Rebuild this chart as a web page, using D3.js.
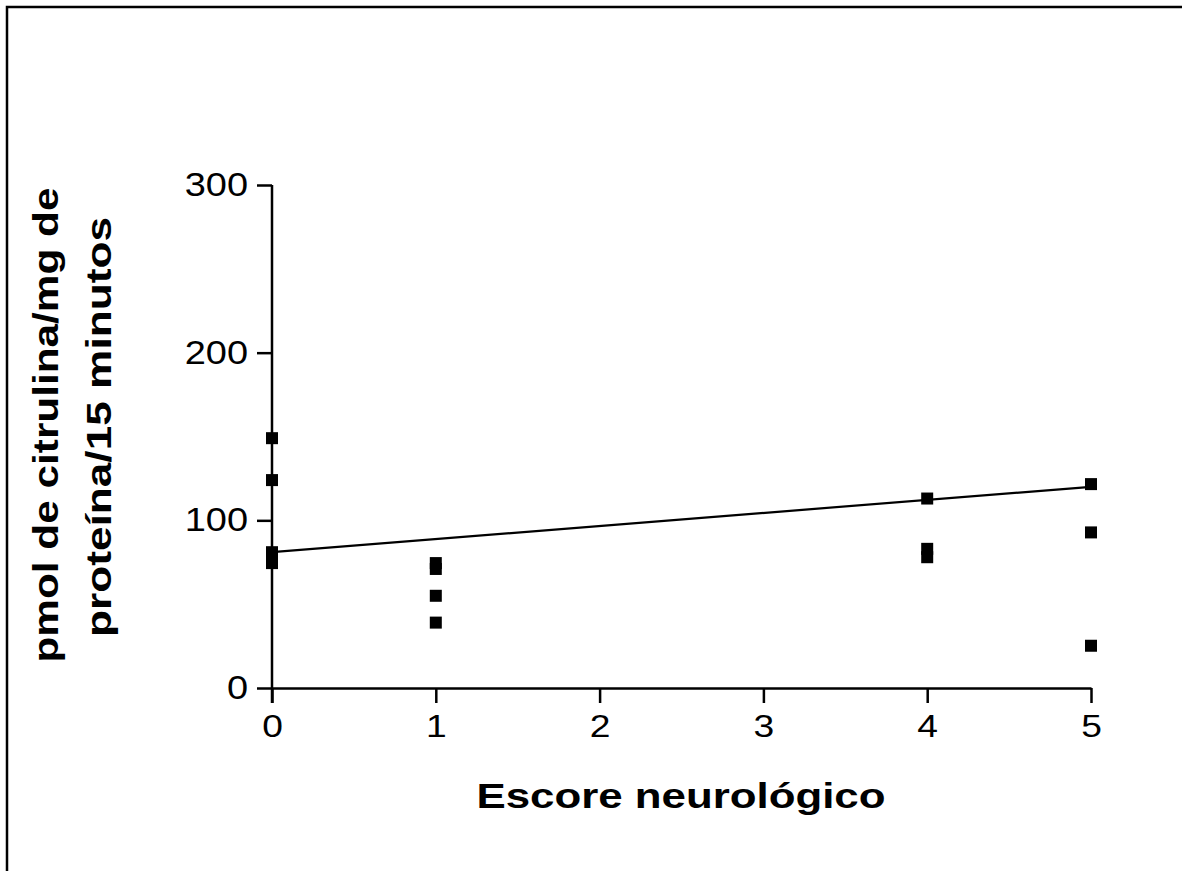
<!DOCTYPE html>
<html>
<head>
<meta charset="utf-8">
<script src="https://cdn.jsdelivr.net/npm/d3@7"></script>
<style>
  body { margin: 0; background: #fff; }
  svg { display: block; }
  text { font-family: "Liberation Sans", Arial, sans-serif; fill: #000; }
</style>
</head>
<body>
<svg width="1182" height="871"></svg>
<script>
// data
var scoreX = [0, 0, 0, 0, 1, 1, 1, 1, 4, 4, 4, 5, 5, 5];
var citrulinaY = [149, 124, 81, 74.5, 74.5, 71, 55, 39, 113, 83, 78, 121.6, 92.8, 25.2];
var lineX = [0, 5];
var lineY = [81, 120];
var xTicks = [0, 1, 2, 3, 4, 5];
var yTicks = [0, 100, 200, 300];

var svg = d3.select("svg"),
 width = +svg.attr("width"),
 height = +svg.attr("height");

// frame (only top and left edges visible)
svg.append("rect")
  .attr("x", 7).attr("y", 7)
  .attr("width", 1300).attr("height", 1000)
  .attr("fill", "none")
  .attr("stroke", "#000")
  .attr("stroke-width", 2.5);

var x = d3.scaleLinear().domain([0, 5]).range([272, 1091]);
var y = d3.scaleLinear().domain([0, 300]).range([688, 185]);

var xAxis = svg.append("g")
    .attr("transform", "translate(0," + y(0) + ")")
    .call(d3.axisBottom(x).tickValues(xTicks).tickFormat(d3.format("d"))
      .tickSize(15).tickPadding(12).tickSizeOuter(0));

var yAxis = svg.append("g")
    .attr("transform", "translate(" + x(0) + ",0)")
    .call(d3.axisLeft(y).tickValues(yTicks).tickFormat(d3.format("d"))
      .tickSize(15).tickPadding(6).tickSizeOuter(0));

[xAxis, yAxis].forEach(function(g) {
  g.attr("font-family", "Liberation Sans, Arial, sans-serif");
  g.select(".domain").attr("stroke", "#000").attr("stroke-width", 2.5);
  g.selectAll(".tick line").attr("stroke", "#000").attr("stroke-width", 2.5);
  g.selectAll(".tick text").attr("fill", "#000");
});
// tick labels in the reference are wide (stretched horizontally)
xAxis.attr("font-size", 31);
xAxis.selectAll(".tick text").attr("transform", "scale(1.2,1)");
yAxis.attr("font-size", 33);
yAxis.selectAll(".tick text")
  .attr("x", -24 / 1.15)
  .attr("transform", "scale(1.15,1)");

// extend y axis below the x axis like the tick marks
yAxis.select(".domain").attr("d", "M0," + y(300) + "V" + (y(0) + 15));

// line
var line = d3.line()
  .x(function(d, i) { return x(lineX[i]); })
  .y(function(d, i) { return y(lineY[i]); });

svg.append("path")
  .datum(lineY)
  .attr("d", line)
  .attr("fill", "none")
  .attr("stroke", "#000")
  .attr("stroke-width", 2.2);

// points
var s = 12;
svg.append("g")
  .selectAll("rect")
  .data(citrulinaY)
  .enter().append("rect")
  .attr("x", function(d, i) { return x(scoreX[i]) - s / 2; })
  .attr("y", function(d) { return y(d) - s / 2; })
  .attr("width", s)
  .attr("height", s)
  .attr("fill", "#000");

// axis titles
svg.append("text")
  .attr("x", 681)
  .attr("y", 808)
  .attr("text-anchor", "middle")
  .attr("font-size", 35)
  .attr("font-weight", "bold")
  .attr("textLength", 409)
  .attr("lengthAdjust", "spacingAndGlyphs")
  .text("Escore neurológico");

svg.append("text")
  .attr("transform", "translate(58,425) rotate(-90)")
  .attr("text-anchor", "middle")
  .attr("font-size", 35)
  .attr("font-weight", "bold")
  .attr("textLength", 475)
  .attr("lengthAdjust", "spacingAndGlyphs")
  .text("pmol de citrulina/mg de");

svg.append("text")
  .attr("transform", "translate(111,427) rotate(-90)")
  .attr("text-anchor", "middle")
  .attr("font-size", 35)
  .attr("font-weight", "bold")
  .attr("textLength", 420)
  .attr("lengthAdjust", "spacingAndGlyphs")
  .text("proteína/15 minutos");
</script>
</body>
</html>
